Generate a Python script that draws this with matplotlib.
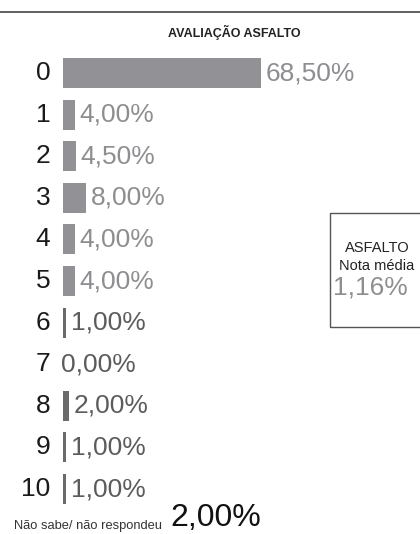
import matplotlib.pyplot as plt
from matplotlib.patches import Rectangle

plt.rcParams['font.family'] = ['Liberation Sans', 'DejaVu Sans']

notas = ['0', '1', '2', '3', '4', '5', '6', '7', '8', '9', '10']
valores = [68.5, 4.0, 4.5, 8.0, 4.0, 4.0, 1.0, 0.0, 2.0, 1.0, 1.0]
nao_sabe = 2.0
nota_media = 1.16


def fmt(v):
    return f"{v:.2f}".replace('.', ',') + '%'


fig = plt.figure(figsize=(4.2, 5.34), dpi=100)
# axes over the whole figure: x in %, y in row index
ax = fig.add_axes([0, 0, 1, 1])
ax.set_xlim(-21.8, 123.5)
ax.set_ylim(11.08, -1.755)
ax.axis('off')

ypos = list(range(len(notas)))
cores_barra = ['#929296'] * 6 + ['#6a6a6a'] * 5
cores_txt = ['#8e8e92'] * 6 + ['#5c5c5c'] * 5
ax.barh(ypos, valores, height=0.72, color=cores_barra, left=0)

for y, n, v, c in zip(ypos, notas, valores, cores_txt):
    ax.text(-4.4, y, n, ha='right', va='center', fontsize=19, color='#1a1a1a')
    ax.text(v + 1.6 if v > 0 else -0.6, y, fmt(v), ha='left', va='center',
            fontsize=19, color=c)

# nao sabe / nao respondeu
fig.text(14 / 420, 2 / 534, 'Não sabe/ não respondeu', ha='left', va='bottom',
         fontsize=9.3, color='#333333')
fig.text(170 / 420, 0.5 / 534, fmt(nao_sabe), ha='left', va='bottom',
         fontsize=23, color='#111111')

# top rule and title
fig.add_artist(plt.Line2D([0, 1], [1 - 12 / 534] * 2, color='#444444', lw=1.2))
fig.text(234 / 420, 1 - 32 / 534, 'AVALIAÇÃO ASFALTO', ha='center', va='center',
         fontsize=9, fontweight='bold', color='#222222')

# box with average
fig.add_artist(Rectangle((330 / 420, 1 - 327 / 534), 0.3, 114 / 534,
                         transform=fig.transFigure, fill=False,
                         edgecolor='#555555', lw=1))
fig.text(377 / 420, 1 - 248 / 534, 'ASFALTO', ha='center', va='center',
         fontsize=10.5, color='#222222')
fig.text(377 / 420, 1 - 266 / 534, 'Nota média', ha='center', va='center',
         fontsize=10.5, color='#222222')
fig.text(370 / 420, 1 - 288 / 534, fmt(nota_media), ha='center', va='center',
         fontsize=19, color='#8e8e92')

fig.savefig('out.png', dpi=100)
